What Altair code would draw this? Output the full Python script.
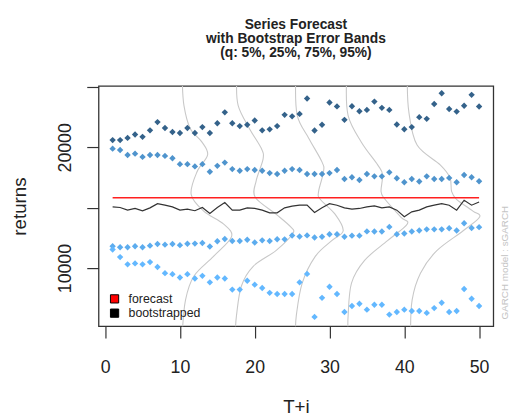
import altair as alt
import pandas as pd

# ---------------- data ----------------
steps = list(range(1, 51))

q95 = [20600, 20600, 20780, 21060, 20870, 21410, 22090, 21600, 21270, 21190,
       21600, 21190, 21680, 21190, 22000, 22900, 22000, 21760, 21870, 22220,
       21410, 21490, 21760, 22690, 22570, 22770, 24050, 21400, 21870, 23710,
       23390, 22280, 23400, 22990, 23100, 23790, 23270, 23100, 21890, 21500,
       21680, 22500, 22360, 23590, 24480, 23180, 22960, 23450, 24350, 23380]
q75 = [19890, 19780, 19370, 19480, 19210, 19370, 19370, 19290, 19100, 18610,
       18610, 18420, 18610, 17980, 18470, 18740, 18200, 18060, 18200, 18120,
       18060, 17870, 17790, 18060, 18200, 18120, 17790, 17790, 17790, 17870,
       18120, 17380, 17520, 17300, 17790, 17600, 17600, 17930, 17440, 17110,
       17380, 17170, 17600, 17380, 17380, 17470, 17110, 17710, 17520, 17190]
q25 = [11810, 11730, 11730, 11810, 11730, 11860, 12000, 11940, 12000, 11900,
       12020, 12030, 12080, 11790, 12220, 12410, 12250, 12240, 12350, 12120,
       12300, 12250, 12390, 12380, 12700, 12620, 12710, 12530, 12600, 12800,
       12800, 12600, 12690, 12690, 13040, 13030, 13030, 13410, 12800, 12870,
       13030, 13110, 13210, 13210, 13210, 13300, 13110, 13710, 13320, 13390]
q05 = [11540, 10910, 10310, 10390, 10310, 10500, 10090, 9580, 9500, 9220,
       9500, 9140, 9360, 8820, 9220, 9140, 8220, 8220, 8950, 8630,
       8350, 7950, 7860, 7860, 7860, 8820, 9520, 5960, 7540, 8460,
       7860, 6370, 6860, 7050, 6560, 6970, 6970, 6150, 6370, 6560,
       6450, 6450, 6290, 6690, 7130, 6370, 6450, 8270, 7460, 6860]
bootstrapped = [15070, 15020, 14800, 14940, 14750, 14990, 15340, 15210, 15070, 14800,
                14880, 14750, 15020, 14530, 15020, 15430, 14800, 14800, 14990, 14940,
                14800, 14580, 14580, 14990, 15130, 15210, 15210, 14610, 14990, 15340,
                15210, 14990, 14880, 14940, 15070, 15150, 14990, 15070, 14800, 14260,
                14660, 14800, 15070, 15210, 15340, 15210, 14800, 15620, 15210, 15480]
forecast = [15830] * 50

quantile_names = ["q95", "q75", "q25", "q05"]
quantile_colors = ["#34628A", "#4F94CD", "#5CACEE", "#63B8FF"]

# sideways bootstrap density curves (horizon position, return level)
curve1_t = [10.32, 10.54, 11.37, 12.95, 13.70, 12.29, 11.50, 13.18, 15.81, 16.90, 14.49, 11.86, 10.75, 10.32]
curve1_v = [25490, 23450, 21570, 20430, 19370, 17980, 16110, 14720, 13660, 12600, 10970, 9330, 7370, 4680]
curve2_t = [17.59, 17.79, 19.28, 20.86, 21.12, 20.20, 20.07, 22.84, 24.81, 25.07, 22.84, 19.80, 18.22, 17.56, 17.42]
curve2_v = [25490, 23450, 21570, 19940, 19040, 17250, 15860, 14470, 13410, 12840, 11450, 10150, 8520, 6070, 4680]
curve3_t = [25.47, 25.69, 27.22, 28.99, 29.20, 28.54, 28.76, 30.74, 31.83, 30.30, 28.10, 26.35, 25.56, 25.47]
curve3_v = [25490, 22630, 20760, 18800, 17980, 16350, 15700, 14470, 13090, 12270, 10970, 8760, 6070, 4680]
curve4_t = [32.28, 32.49, 34.26, 36.44, 37.10, 36.89, 37.42, 39.53, 40.40, 37.76, 34.69, 32.94, 32.49, 32.49]
curve4_v = [25490, 22630, 20430, 18550, 17740, 16350, 15700, 14230, 13660, 12270, 10640, 8760, 6070, 4680]
curve5_t = [40.40, 40.62, 41.71, 44.80, 46.11, 46.32, 46.98, 49.18, 50.07, 47.87, 44.35, 42.16, 41.05, 40.84]
curve5_v = [25490, 22880, 20190, 18550, 17490, 16350, 15700, 14720, 14230, 13090, 11450, 9580, 7370, 4680]

title_lines = ["Series Forecast", "with Bootstrap Error Bands", "(q: 5%, 25%, 75%, 95%)"]
note_text = "GARCH model : sGARCH"

# ---------------- tables ----------------
FONT = "Liberation Sans"

pts_rows = []
for name, vals in zip(quantile_names, [q95, q75, q25, q05]):
    for t, v in zip(steps, vals):
        pts_rows.append({"t": t, "value": v, "quantile": name})
pts = pd.DataFrame(pts_rows)

lines = pd.DataFrame({
    "t": steps * 2,
    "value": forecast + bootstrapped,
    "series": ["forecast"] * 50 + ["bootstrapped"] * 50,
})

curve_rows = []
for cid, (ts, vs) in enumerate([(curve1_t, curve1_v), (curve2_t, curve2_v), (curve3_t, curve3_v),
                                (curve4_t, curve4_v), (curve5_t, curve5_v)]):
    for i, (t, v) in enumerate(zip(ts, vs)):
        curve_rows.append({"t": t, "value": v, "curve": cid, "seq": i})
curves = pd.DataFrame(curve_rows)

xscale = alt.Scale(domain=[-0.88, 51.9], nice=False, zero=False)
yscale = alt.Scale(domain=[5190, 25080], nice=False, zero=False)

x_axis = alt.Axis(values=[0, 10, 20, 30, 40, 50], grid=False, domain=False,
                  tickSize=12, tickColor="#333", tickWidth=1.2,
                  labelFontSize=18, labelFont=FONT, labelColor="#222", labelPadding=21,
                  title="T+i", titleFont=FONT, titleFontSize=19, titleFontWeight="normal",
                  titleColor="#222", titleBaseline="alphabetic", titleY=88)
y_axis = alt.Axis(values=[10000, 15000, 20000, 25000], grid=False, domain=False,
                  format="d",
                  labelExpr="(datum.value == 10000 || datum.value == 20000) ? datum.label : ''",
                  tickSize=12, tickColor="#333", tickWidth=1.2,
                  labelFontSize=18, labelFont=FONT, labelColor="#222", labelPadding=12,
                  labelAngle=270, labelAlign="center", labelBaseline="bottom",
                  title="returns", titleFont=FONT, titleFontSize=19, titleFontWeight="normal",
                  titleColor="#222", titleAngle=270, titleX=-70, titleY=122,
                  titleAlign="center", titleBaseline="bottom")

curve_layer = alt.Chart(curves).mark_line(color="#c8c8c8", strokeWidth=1.1, clip=True,
                                          interpolate="cardinal").encode(
    x=alt.X("t:Q", scale=xscale, axis=x_axis),
    y=alt.Y("value:Q", scale=yscale, axis=y_axis),
    detail="curve:N",
    order="seq:Q",
)

point_layer = alt.Chart(pts).mark_point(shape="diamond", filled=True, size=42, opacity=1).encode(
    x=alt.X("t:Q", scale=xscale),
    y=alt.Y("value:Q", scale=yscale),
    color=alt.Color("quantile:N", scale=alt.Scale(domain=quantile_names, range=quantile_colors),
                    legend=None),
)

forecast_layer = alt.Chart(lines).transform_filter(alt.datum.series == "forecast").mark_line(
    color="#FF2020", strokeWidth=1.5).encode(
    x=alt.X("t:Q", scale=xscale), y=alt.Y("value:Q", scale=yscale))

boot_layer = alt.Chart(lines).transform_filter(alt.datum.series == "bootstrapped").mark_line(
    color="#333333", strokeWidth=1.2).encode(
    x=alt.X("t:Q", scale=xscale), y=alt.Y("value:Q", scale=yscale))

legend_layer = alt.Chart(lines).mark_square(filled=True, opacity=0, size=1).encode(
    x=alt.X("t:Q", scale=xscale), y=alt.Y("value:Q", scale=yscale),
    fill=alt.Fill("series:N",
                  scale=alt.Scale(domain=["forecast", "bootstrapped"], range=["#FF0000", "#000000"]),
                  legend=alt.Legend(title=None, orient="none", legendX=10, legendY=210,
                                    symbolType="square", symbolSize=70, symbolOpacity=1,
                                    symbolStrokeColor="black", symbolStrokeWidth=1,
                                    labelFont=FONT, labelFontSize=12.5, labelColor="#222",
                                    labelOffset=8, rowPadding=1.5, padding=0)),
)

note_layer = alt.Chart(pd.DataFrame({"note": [note_text]})).mark_text(
    angle=270, fontSize=10, font=FONT, color="#c4c4c4", align="center", baseline="middle").encode(
    text="note:N", x=alt.value(412.5), y=alt.value(179.5))

chart = alt.layer(curve_layer, point_layer, forecast_layer, boot_layer, legend_layer, note_layer).properties(
    width=401, height=244,
    background="white",
    title=alt.TitleParams(text=title_lines, fontSize=14, fontWeight="bold", font=FONT,
                          lineHeight=14.5, offset=26, anchor="middle", frame="group", color="#222"),
    autosize=alt.AutoSizeParams(type="none"),
    padding={"left": 92, "top": 76, "right": 19, "bottom": 89},
).configure_view(stroke="#333333", strokeWidth=1.3)

chart.save("out.html", embed_options={"renderer": "svg", "actions": False})
